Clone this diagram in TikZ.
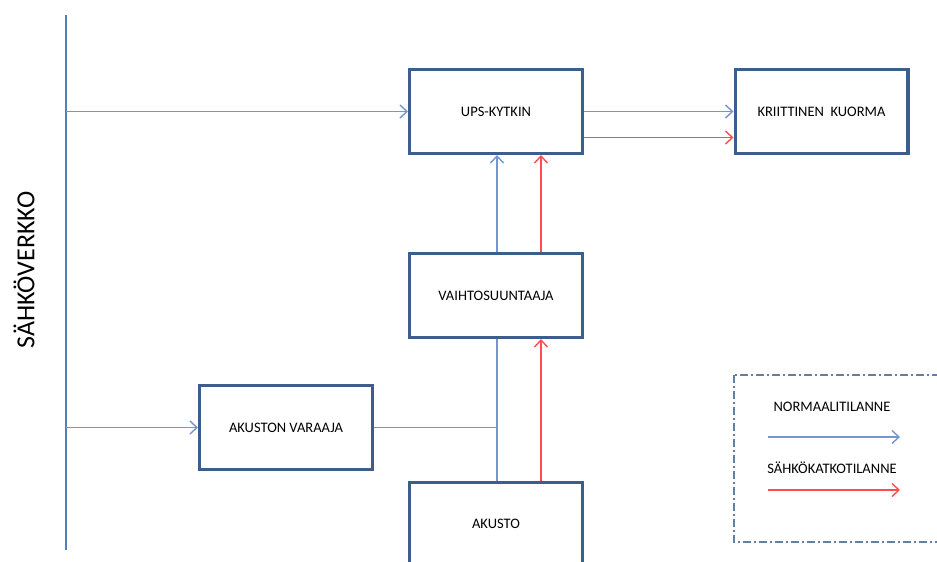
\documentclass[tikz,border=0pt]{standalone}
\usepackage{fontspec}
\setmainfont{Carlito}
\usetikzlibrary{arrows.meta}
\definecolor{boxc}{HTML}{3B5E8C}
\definecolor{bluec}{HTML}{7396CF}
\definecolor{busc}{HTML}{4F81BD}
\definecolor{redc}{HTML}{FF4D4D}
\tikzset{
  blk/.style={draw=boxc, line width=3.4pt, minimum width=172.6pt, minimum height=83.6pt, inner sep=0pt, fill=white, font=\fontsize{14.5pt}{16pt}\selectfont},
  bl/.style={draw=bluec, line width=1.8pt},
  rd/.style={draw=redc, line width=1.8pt},
  tip/.style={-{Straight Barb[length=7pt,width=13pt,line width=1.4pt]}},
  lbl/.style={font=\fontsize{14.5pt}{16pt}\selectfont, inner sep=0pt},
}
\begin{document}
\begin{tikzpicture}[x=1pt,y=-1pt]
\useasboundingbox (0,0) rectangle (937,562);
\clip (0,0) rectangle (937,562);
\fill[white] (0,0) rectangle (937,562);
% boxes
\node[blk] (ups) at (496,111.5) {UPS-KYTKIN};
\node[blk] (load) at (821.5,111.5) {KRIITTINEN\ \ KUORMA};
\node[blk] (inv) at (496,295.5) {VAIHTOSUUNTAAJA};
\node[blk] (chg) at (286,427.5) {AKUSTON VARAAJA};
\node[blk] (bat) at (496,524) {AKUSTO};
% grid bus
\node[font=\fontsize{26pt}{28pt}\selectfont, rotate=90, inner sep=0pt] (grid) at (24,270) {SÄHKÖVERKKO};
\coordinate (bustop) at (66,15);
\coordinate (busbot) at (66,550);
\coordinate (bus1) at (66,111.5);
\coordinate (bus2) at (66,427.5);
\draw[draw=busc, line width=1.4pt] (bustop) -- (busbot);
\draw[bl,tip] (bus1) -- (ups.west);
\draw[bl,tip] (bus2) -- (chg.west);
% ups to load
\draw[bl,tip] (ups.east) -- (load.west);
\draw[rd,tip] ([yshift=-26pt]ups.east) -- ([yshift=-26pt]load.west);
% inverter to ups
\draw[bl,tip] ([xshift=1pt]inv.north) -- ([xshift=1pt]ups.south);
\draw[rd,tip] ([xshift=45pt]inv.north) -- ([xshift=45pt]ups.south);
% battery to inverter
\draw[bl] ([xshift=1pt]bat.north) -- ([xshift=1pt]inv.south);
\draw[rd,tip] ([xshift=45pt]bat.north) -- ([xshift=45pt]inv.south);
% charger to junction
\coordinate (j) at (497,427.5);
\draw[bl] (chg.east) -- (j);
% legend
\draw[draw=boxc!80, line width=1.4pt, dash pattern=on 8pt off 3pt on 2pt off 3pt] (734,375) rectangle (950,542);
\node[lbl] (ln) at (832,407) {NORMAALITILANNE};
\node[lbl] (lr) at (832,468) {SÄHKÖKATKOTILANNE};
\coordinate (lb1) at (768,437);
\coordinate (lb2) at (900,437);
\coordinate (lr1) at (768,490);
\coordinate (lr2) at (900,490);
\draw[bl,tip] (lb1) -- (lb2);
\draw[rd,tip] (lr1) -- (lr2);
\end{tikzpicture}
\end{document}
